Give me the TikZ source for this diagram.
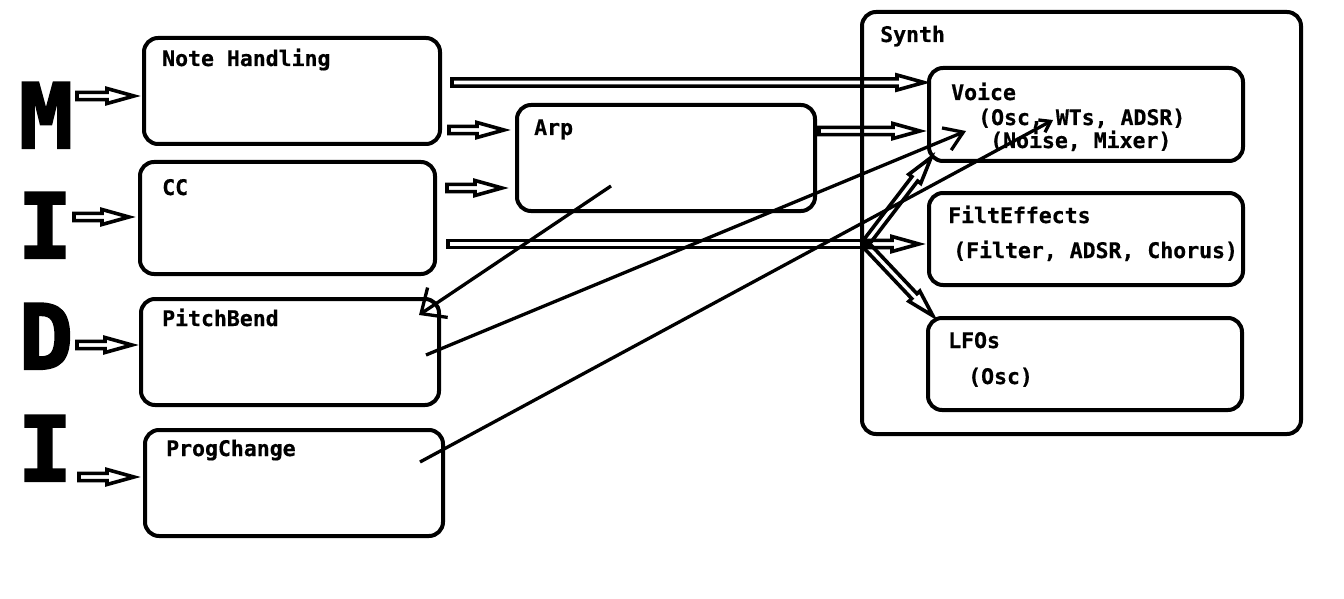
\documentclass[tikz,border=0pt]{standalone}
\usepackage{fontspec}
\newfontfamily\lblfont{DejaVu Sans Mono}[BoldFeatures={FakeBold=0.6}]
\newfontfamily\bigfont{DejaVu Sans Mono}[BoldFeatures={FakeBold=2.5}]
\usetikzlibrary{arrows.meta,decorations.markings,calc}
\tikzset{
 box/.style={draw, line width=4pt, rounded corners=14pt, inner sep=0pt, rectangle},
 lbl/.style={anchor=base west, inner sep=0pt, font=\lblfont\bfseries\fontsize{21.5}{24}\selectfont},
 big/.style={anchor=base, inner sep=0pt, font=\bigfont\bfseries\fontsize{90}{90}\selectfont},
 hollow/.style={decorate, decoration={markings, mark=at position 0 with {\draw[line width=3.6pt, line join=miter] (0pt,-3.6pt) -- ({\pgfdecoratedpathlength-30pt},-3.6pt) -- ({\pgfdecoratedpathlength-30pt},-7.5pt) -- ({\pgfdecoratedpathlength-3pt},0pt) -- ({\pgfdecoratedpathlength-30pt},7.5pt) -- ({\pgfdecoratedpathlength-30pt},3.6pt) -- (0pt,3.6pt) -- cycle;}}},
 hollowshaft/.style={decorate, decoration={markings, mark=at position 0 with {\draw[line width=3.6pt] (0pt,-3.6pt) rectangle (\pgfdecoratedpathlength,3.6pt);}}},
 thin/.style={draw, line width=3.3pt},
}
\begin{document}
\begin{tikzpicture}[x=1pt,y=-1pt]
\useasboundingbox[fill=white] (0,0) rectangle (1344,599);
% MIDI letters
\node[big] (M) at (46,148) {M};
\node[big] (I1) at (45,258) {I};
\node[big] (D) at (46,369) {D};
\node[big] (I2) at (45,481) {I};
% boxes
\node[box, minimum width=296pt, minimum height=106pt] (nh) at (292,91) {};
\node[box, minimum width=295pt, minimum height=112pt] (cc) at (287.5,218) {};
\node[box, minimum width=298pt, minimum height=106pt] (pb) at (290,352) {};
\node[box, minimum width=298pt, minimum height=106pt] (pc) at (294,483) {};
\node[box, minimum width=298pt, minimum height=106pt] (arp) at (666,158) {};
\node[box, minimum width=439pt, minimum height=422pt] (synth) at (1081.5,223) {};
\node[box, minimum width=314pt, minimum height=93pt] (voice) at (1086,114.5) {};
\node[box, minimum width=314pt, minimum height=92pt] (filt) at (1086,239) {};
\node[box, minimum width=314pt, minimum height=92pt] (lfo) at (1085,364) {};
% labels
\node[lbl] (tnh) at (162,66) {Note Handling};
\node[lbl] (tcc) at (162,195) {CC};
\node[lbl] (tpb) at (162,326) {PitchBend};
\node[lbl] (tpc) at (166,456) {ProgChange};
\node[lbl] (tarp) at (534,135) {Arp};
\node[lbl] (tsyn) at (880,42) {Synth};
\node[lbl] (tvo) at (951,100) {Voice};
\node[lbl] (tvo2) at (978,125) {(Osc, WTs, ADSR)};
\node[lbl] (tvo3) at (990,148) {(Noise, Mixer)};
\node[lbl] (tfi) at (948,223) {FiltEffects};
\node[lbl] (tfi2) at (953,258) {(Filter, ADSR, Chorus)};
\node[lbl] (tlf) at (948,348) {LFOs};
\node[lbl] (tlf2) at (968,384) {(Osc)};
% hollow arrows from MIDI letters
\path[hollow] ($(M.base)+(31,-52)$) -- ($(nh.west)+(-5,5)$);
\path[hollow] ($(I1.base)+(29,-41)$) -- ($(cc.west)+(-6,-1)$);
\path[hollow] ($(D.base)+(31,-24)$) -- ($(pb.west)+(-4,-7)$);
\path[hollow] ($(I2.base)+(34,-4)$) -- ($(pc.west)+(-6,-6)$);
% hollow arrows between blocks
\path[hollow] ($(nh.east)+(10,-8.5)$) -- ($(voice.west)+(0,-32)$);
\path[hollow] ($(nh.east)+(7,39)$) -- ($(arp.west)+(-8,-28)$);
\path[hollow] ($(cc.east)+(10,-30)$) -- ($(arp.west)+(-10,30)$);
\path[hollow] ($(arp.east)+(2,-27)$) -- ($(voice.west)+(-4,16.5)$);
\coordinate (J) at (865,244);
\path[hollowshaft] ($(cc.east)+(11,26)$) -- (J);
\path[hollow] (J) -- ($(filt.west)+(-5,5)$);
\path[hollow] (J) -- ($(voice.south west)+(6,-8)$);
\path[hollow] (J) -- ($(lfo.north west)+(9,2)$);
% thin arrows
\draw[thin, -{Straight Barb[length=20pt,width=36pt]}] ($(arp.center)+(-55,28)$) -- ($(pb.north east)+(-22,18)$);
\draw[thin, -{Straight Barb[length=18pt,width=24pt]}] ($(pb.east)+(-15,3)$) -- ($(voice.west)+(39,16.5)$);
\draw[thin, -{Straight Barb[length=10pt,width=14pt]}] ($(pc.east)+(-25,-21)$) -- ($(voice.center)+(-33,5.5)$);
\end{tikzpicture}
\end{document}
